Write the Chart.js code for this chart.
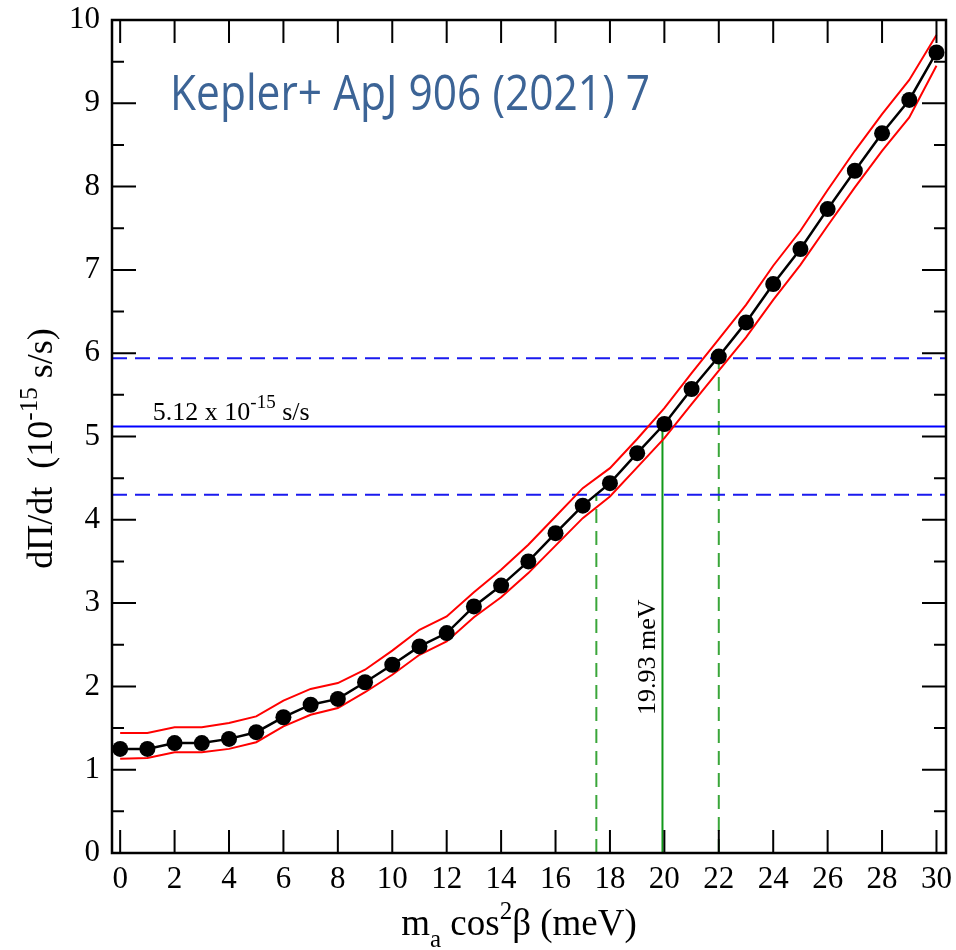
<!DOCTYPE html>
<html>
<head>
<meta charset="utf-8">
<script src="https://cdn.jsdelivr.net/npm/chart.js@4"></script>
<style>
  html, body { margin: 0; padding: 0; background: #fff; }
</style>
</head>
<body>
<canvas id="chart" width="956" height="950"></canvas>
<script>
// axion mass (meV) and the rate of period change with its band
const mass = [0, 1, 2, 3, 4, 5, 6, 7, 8, 9, 10, 11, 12, 13, 14, 15,
              16, 17, 18, 19, 20, 21, 22, 23, 24, 25, 26, 27, 28, 29, 30];
const rate = [1.25, 1.25, 1.32, 1.32, 1.37, 1.45, 1.63, 1.78, 1.85, 2.05, 2.26,
              2.48, 2.64, 2.96, 3.21, 3.50, 3.84, 4.17, 4.44, 4.80, 5.15,
              5.57, 5.96, 6.37, 6.83, 7.25, 7.73, 8.19, 8.64, 9.04, 9.61];
const rateUpper = [1.44, 1.44, 1.51, 1.51, 1.56, 1.64, 1.83, 1.97, 2.04, 2.20, 2.43,
                   2.68, 2.84, 3.13, 3.40, 3.70, 4.04, 4.38, 4.62, 4.97, 5.34,
                   5.76, 6.17, 6.58, 7.05, 7.47, 7.96, 8.43, 8.87, 9.28, 9.82];
const rateLower = [1.13, 1.14, 1.21, 1.21, 1.25, 1.33, 1.52, 1.66, 1.74, 1.93, 2.14,
                   2.38, 2.54, 2.83, 3.07, 3.36, 3.69, 4.02, 4.28, 4.63, 4.98,
                   5.39, 5.79, 6.19, 6.64, 7.06, 7.53, 7.99, 8.43, 8.83, 9.45];

// observed value with its limits, and the masses they give
const observed = 5.12;
const observedHigh = 5.94;
const observedLow = 4.30;
const massBest = 19.93;
const massLow = 17.5;
const massHigh = 22.0;

const xMin = -0.3, xMax = 30.35;
const yMin = 0, yMax = 10;
const xTicks = [0, 2, 4, 6, 8, 10, 12, 14, 16, 18, 20, 22, 24, 26, 28, 30];
const yTicks = [0, 1, 2, 3, 4, 5, 6, 7, 8, 9, 10];
const yMinorTicks = [0.5, 1.5, 2.5, 3.5, 4.5, 5.5, 6.5, 7.5, 8.5, 9.5];

const SERIF = '"Liberation Serif", "Times New Roman", serif';
const pts = (xs, ys) => xs.map((x, i) => ({ x: x, y: ys[i] }));

function drawRich(ctx, parts, x, y) {
  parts.forEach(p => {
    ctx.font = p.size + 'px ' + SERIF;
    ctx.fillText(p.t, x, y + (p.dy || 0));
    x += ctx.measureText(p.t).width;
  });
}
function richWidth(ctx, parts) {
  let w = 0;
  parts.forEach(p => {
    ctx.font = p.size + 'px ' + SERIF;
    w += ctx.measureText(p.t).width;
  });
  return w;
}

const overlay = {
  id: 'overlay',
  afterDatasetsDraw(chart) {
    const ctx = chart.ctx;
    const a = chart.chartArea;
    const xs = chart.scales.x, ys = chart.scales.y;
    ctx.save();
    ctx.strokeStyle = '#000';
    ctx.lineWidth = 2;
    // inward ticks on all four sides
    ctx.beginPath();
    xTicks.forEach(v => {
      const px = xs.getPixelForValue(v);
      ctx.moveTo(px, a.bottom); ctx.lineTo(px, a.bottom - 23);
      ctx.moveTo(px, a.top); ctx.lineTo(px, a.top + 23);
    });
    yTicks.forEach(v => {
      const py = ys.getPixelForValue(v);
      ctx.moveTo(a.left, py); ctx.lineTo(a.left + 24, py);
      ctx.moveTo(a.right, py); ctx.lineTo(a.right - 24, py);
    });
    yMinorTicks.forEach(v => {
      const py = ys.getPixelForValue(v);
      ctx.moveTo(a.left, py); ctx.lineTo(a.left + 12, py);
      ctx.moveTo(a.right, py); ctx.lineTo(a.right - 12, py);
    });
    ctx.stroke();
    ctx.lineWidth = 2.5;
    ctx.strokeRect(a.left, a.top, a.right - a.left, a.bottom - a.top);

    // labels on the reference lines
    ctx.fillStyle = '#000';
    ctx.textBaseline = 'alphabetic';
    ctx.textAlign = 'left';
    drawRich(ctx, [
      { t: '5.12 x 10', size: 26 },
      { t: '-15', size: 19, dy: -12 },
      { t: ' s/s', size: 26 }
    ], xs.getPixelForValue(1.2), ys.getPixelForValue(observed) - 7);

    ctx.save();
    ctx.translate(xs.getPixelForValue(massBest) - 7, ys.getPixelForValue(2.35));
    ctx.rotate(-Math.PI / 2);
    ctx.font = '26px ' + SERIF;
    ctx.textAlign = 'center';
    ctx.fillText('19.93 meV', 0, 0);
    ctx.restore();

    // axis titles
    ctx.textAlign = 'left';
    const yTitle = [
      { t: 'd\u03A0/dt  (10', size: 36 },
      { t: '-15', size: 25, dy: -15 },
      { t: ' s/s)', size: 36 }
    ];
    ctx.save();
    ctx.translate(52, (a.top + a.bottom) / 2 + 12);
    ctx.rotate(-Math.PI / 2);
    drawRich(ctx, yTitle, -richWidth(ctx, yTitle) / 2, 0);
    ctx.restore();

    const xTitle = [
      { t: 'm', size: 37 },
      { t: 'a', size: 25, dy: 12 },
      { t: ' cos', size: 37 },
      { t: '2', size: 25, dy: -16 },
      { t: '\u03B2 (meV)', size: 37 }
    ];
    drawRich(ctx, xTitle, (a.left + a.right) / 2 - richWidth(ctx, xTitle) / 2 - 10, 935);

    // citation
    ctx.fillStyle = '#3c6496';
    ctx.font = '50px "Open Sans", "Noto Sans", sans-serif';
    const cite = 'Kepler+ ApJ 906 (2021) 7';
    const cw = ctx.measureText(cite).width;
    ctx.translate(170, 110);
    ctx.scale(480 / cw, 1);
    ctx.fillText(cite, 0, 0);
    ctx.restore();
  }
};

new Chart(document.getElementById('chart'), {
  type: 'line',
  data: {
    datasets: [
      {
        data: pts(mass, rate),
        borderColor: '#000', borderWidth: 2.5,
        pointRadius: 8, pointBackgroundColor: '#000', pointBorderWidth: 0
      },
      { data: pts(mass, rateUpper), borderColor: '#ff0000', borderWidth: 2, pointRadius: 0 },
      { data: pts(mass, rateLower), borderColor: '#ff0000', borderWidth: 2, pointRadius: 0 },
      { data: pts([xMin, xMax], [observed, observed]), borderColor: '#0000ff', borderWidth: 2, pointRadius: 0 },
      { data: pts([xMin, xMax], [observedHigh, observedHigh]), borderColor: '#1a1aee', borderWidth: 2, borderDash: [15, 8], pointRadius: 0 },
      { data: pts([xMin, xMax], [observedLow, observedLow]), borderColor: '#1a1aee', borderWidth: 2, borderDash: [15, 8], pointRadius: 0 },
      { data: pts([massBest, massBest], [yMin, observed]), borderColor: '#11991a', borderWidth: 2, pointRadius: 0 },
      { data: pts([massLow, massLow], [yMin, observedLow]), borderColor: '#3aa63a', borderWidth: 2, borderDash: [14, 8], pointRadius: 0 },
      { data: pts([massHigh, massHigh], [yMin, observedHigh]), borderColor: '#3aa63a', borderWidth: 2, borderDash: [14, 8], pointRadius: 0 }
    ]
  },
  options: {
    responsive: false,
    animation: false,
    layout: { padding: { top: 20, right: 10, left: 0, bottom: 0 } },
    plugins: { legend: { display: false }, tooltip: { enabled: false } },
    elements: { line: { tension: 0, fill: false } },
    scales: {
      x: {
        type: 'linear', min: xMin, max: xMax,
        grid: { display: false, drawTicks: false },
        border: { display: false },
        ticks: { color: '#000', font: { family: SERIF, size: 31 }, padding: 8, maxRotation: 0, autoSkip: false },
        afterBuildTicks: s => { s.ticks = xTicks.map(v => ({ value: v })); },
        afterFit: s => { s.height = 97; s.paddingLeft = 0; s.paddingRight = 0; }
      },
      y: {
        type: 'linear', min: yMin, max: yMax,
        grid: { display: false, drawTicks: false },
        border: { display: false },
        ticks: { color: '#000', font: { family: SERIF, size: 31 }, padding: 12, autoSkip: false },
        afterBuildTicks: s => { s.ticks = yTicks.map(v => ({ value: v })); },
        afterFit: s => { s.width = 112; s.paddingTop = 0; s.paddingBottom = 0; }
      }
    }
  },
  plugins: [overlay]
});
</script>
</body>
</html>
